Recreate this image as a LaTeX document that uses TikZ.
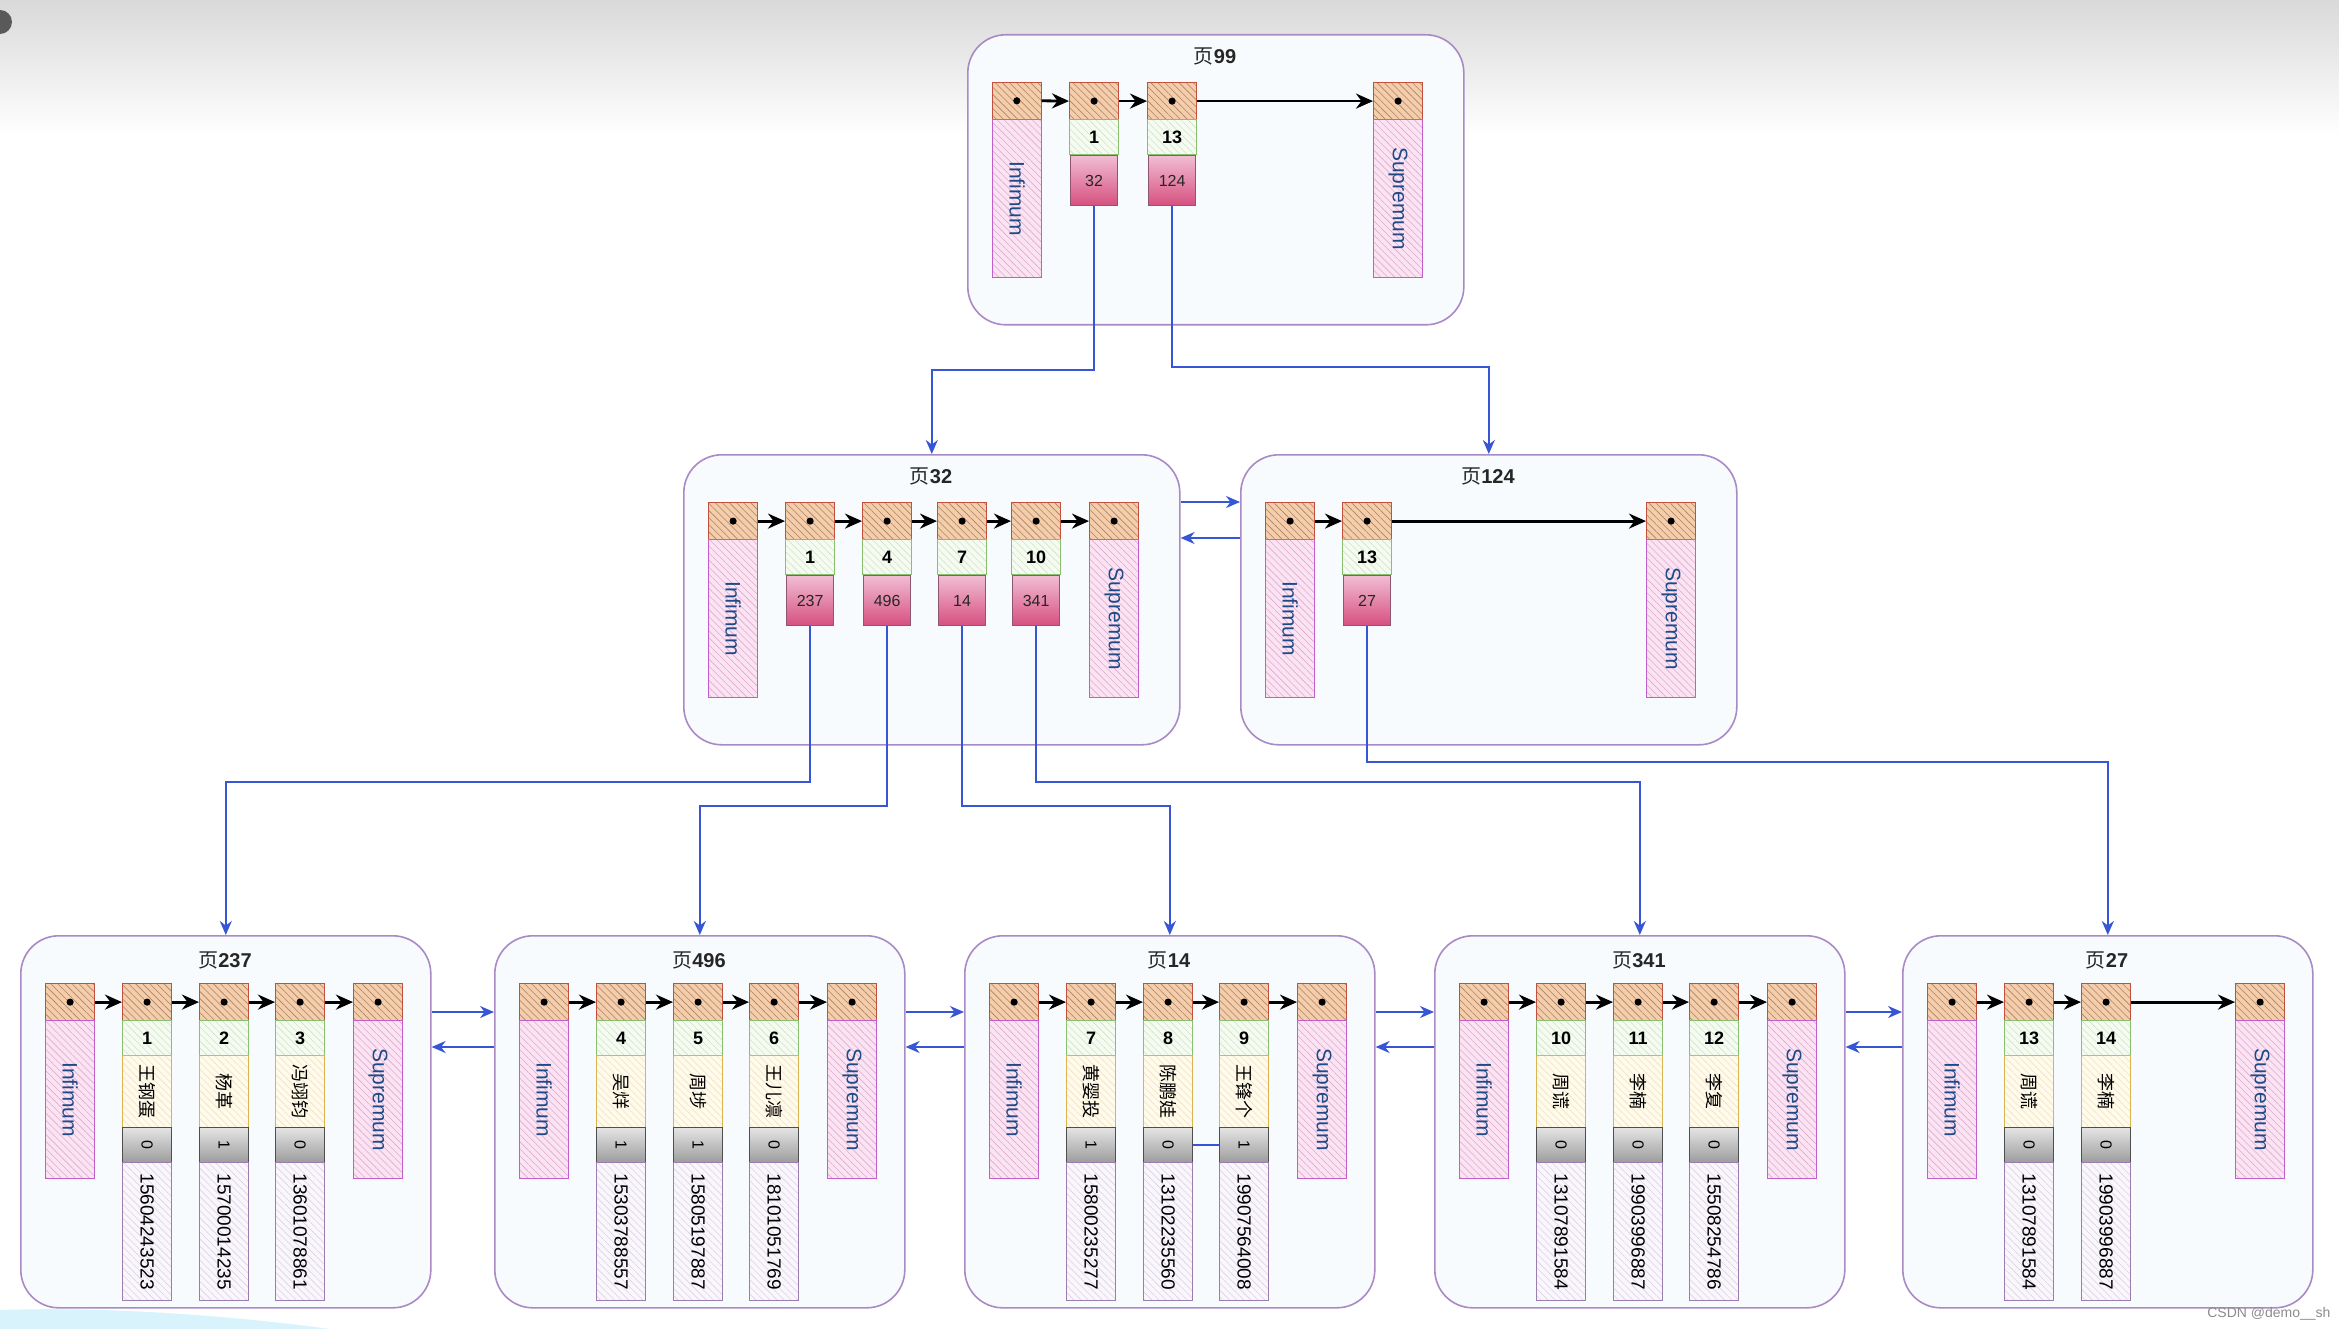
\documentclass[tikz,border=0pt]{standalone}
\usepackage{fontspec}
\setmainfont{Liberation Sans}
\newfontfamily\cjk{Noto Sans CJK SC}
\usepackage{graphicx}
\usetikzlibrary{patterns.meta,arrows.meta}

\definecolor{pageedge}{HTML}{A98AC4}
\definecolor{pagefill}{HTML}{F8FBFD}
\definecolor{headfill}{HTML}{F4CDAA}
\definecolor{headedge}{HTML}{C2503F}
\definecolor{headhatch}{HTML}{AD8268}
\definecolor{inffill}{HTML}{FAE3F3}
\definecolor{infedge}{HTML}{C05FCB}
\definecolor{infhatch}{HTML}{E2A9CB}
\definecolor{inftext}{HTML}{1E4A86}
\definecolor{keyfill}{HTML}{F6FBF2}
\definecolor{keyedge}{HTML}{88C070}
\definecolor{keyhatch}{HTML}{CFE3C6}
\definecolor{ptrtop}{HTML}{F1BDD3}
\definecolor{ptrbot}{HTML}{D6507F}
\definecolor{ptredge}{HTML}{8E5670}
\definecolor{namefill}{HTML}{FFFAEA}
\definecolor{nameedge}{HTML}{D8B552}
\definecolor{namehatch}{HTML}{EEE2C6}
\definecolor{flagtop}{HTML}{E4E4E4}
\definecolor{flagbot}{HTML}{9C9C9C}
\definecolor{flagedge}{HTML}{4E4E4E}
\definecolor{phonefill}{HTML}{FAF7FC}
\definecolor{phoneedge}{HTML}{9C7DAF}
\definecolor{phonehatch}{HTML}{DDD2E5}
\definecolor{conn}{HTML}{3656D6}

\tikzset{
  hatch/.style={pattern={Lines[angle=-45,distance=5pt,line width=0.6pt]}, pattern color=#1},
  cell/.style={rectangle, anchor=north west, inner sep=0pt, line width=1.2pt, minimum width=49pt},
  headc/.style={cell, minimum height=37pt, draw=headedge, preaction={fill=headfill}, hatch=headhatch},
  infc/.style={cell, minimum height=158pt, draw=infedge, preaction={fill=inffill}, hatch=infhatch,
    text=inftext, font=\fontsize{21}{24}\selectfont},
  keyc/.style={cell, minimum height=35pt, draw=keyedge, preaction={fill=keyfill}, hatch=keyhatch,
    font=\fontsize{18}{20}\selectfont\bfseries},
  ptrc/.style={cell, minimum width=47pt, minimum height=50pt, draw=ptredge, top color=ptrtop, bottom color=ptrbot,
    text=black!85, font=\fontsize{16}{18}\selectfont},
  namec/.style={cell, minimum height=72pt, draw=nameedge, preaction={fill=namefill}, hatch=namehatch,
    font=\fontsize{18}{20}\selectfont},
  flagc/.style={cell, minimum height=35pt, draw=flagedge, top color=flagtop, bottom color=flagbot,
    font=\fontsize{16}{18}\selectfont},
  phonec/.style={cell, minimum height=138pt, draw=phoneedge, preaction={fill=phonefill}, hatch=phonehatch,
    font=\fontsize{19}{22}\selectfont},
  pagebox/.style={rectangle, anchor=north west, inner sep=0pt, draw=pageedge, fill=pagefill,
    line width=1.6pt, rounded corners=38pt},
  ttl/.style={inner sep=0pt, text=black!85, font=\fontsize{20}{24}\selectfont},
  harrow/.style={line width=2.8pt, -{Stealth[length=17pt,width=15pt]}},
  bconn/.style={line width=2pt, draw=conn, -{Stealth[length=14pt,width=12pt]}},
}

\newcommand\hdot[1]{\fill (#1.center) circle (3.6pt);}

% internal page: #1 prefix, #2 left, #3 top, #4 title, #5 list key/ptr/x, #6 count
\newcommand\ipage[6]{%
\begin{scope}[shift={(#2,#3)}]
  \node[pagebox, minimum width=496pt, minimum height=290pt] (#1) at (0,0) {};
  \node[ttl] (#1-t) at (248,22) {{\cjk 页}\textbf{#4}};
  \node[headc] (#1-h0) at (25,48) {}; \hdot{#1-h0}
  \node[infc] (#1-inf) at (25,85) {\rotatebox{-90}{Infimum}};
  \node[headc] (#1-hs) at (406,48) {}; \hdot{#1-hs}
  \node[infc] (#1-sup) at (406,85) {\rotatebox{-90}{Supremum}};
  \foreach \kk/\pp/\xx [count=\i] in {#5} {
    \node[headc] (#1-h\i) at (\xx,48) {}; \hdot{#1-h\i}
    \node[keyc] (#1-k\i) at (\xx,85) {\kk};
    \node[ptrc] (#1-p\i) at (\xx+1,121) {\pp};
    \pgfmathtruncatemacro\j{\i-1}
    \draw[harrow] (#1-h\j.east) -- (#1-h\i.west);
  }
  \draw[harrow] (#1-h#6.east) -- (#1-hs.west);
\end{scope}}

% leaf page: #1 prefix, #2 left, #3 top, #4 title, #5 list key/name/flag/phone/x, #6 count
\newcommand\lpage[6]{%
\begin{scope}[shift={(#2,#3)}]
  \node[pagebox, minimum width=410pt, minimum height=372pt] (#1) at (0,0) {};
  \node[ttl] (#1-t) at (205,25) {{\cjk 页}\textbf{#4}};
  \node[headc] (#1-h0) at (25,48) {}; \hdot{#1-h0}
  \node[infc] (#1-inf) at (25,85) {\rotatebox{-90}{Infimum}};
  \node[headc] (#1-hs) at (333,48) {}; \hdot{#1-hs}
  \node[infc] (#1-sup) at (333,85) {\rotatebox{-90}{Supremum}};
  \foreach \kk/\nn/\ff/\ph/\xx [count=\i] in {#5} {
    \node[headc] (#1-h\i) at (\xx,48) {}; \hdot{#1-h\i}
    \node[keyc] (#1-k\i) at (\xx,85) {\kk};
    \node[namec] (#1-n\i) at (\xx,120) {\rotatebox{-90}{\cjk \nn}};
    \node[flagc] (#1-f\i) at (\xx,192) {\rotatebox{-90}{\ff}};
    \node[phonec] (#1-ph\i) at (\xx,227) {\rotatebox{-90}{\ph}};
    \pgfmathtruncatemacro\j{\i-1}
    \draw[harrow] (#1-h\j.east) -- (#1-h\i.west);
  }
  \draw[harrow] (#1-h#6.east) -- (#1-hs.west);
\end{scope}}

\begin{document}
\begin{tikzpicture}[x=1pt, y=-1pt]
\useasboundingbox (0,0) rectangle (2339,1329);
\fill[white] (0,0) rectangle (2339,1329);
\shade[top color=black!15, bottom color=white] (0,0) rectangle (2339,135);
\fill[black!65] (0,22) circle (12pt);
\fill[cyan!15] (0,1329) -- (0,1310) .. controls (120,1306) and (250,1318) .. (330,1329) -- cycle;

% upper levels
\ipage{p99}{967}{34}{99}{1/32/102, 13/124/180}{2}
\ipage{p32}{683}{454}{32}{1/237/102, 4/496/179, 7/14/254, 10/341/328}{4}
\ipage{p124}{1240}{454}{124}{13/27/102}{1}

% leaves
\lpage{p237}{20}{935}{237}{1/王钢蛋/0/15604243523/102, 2/杨革/1/15700014235/179, 3/冯翊钧/0/13601078861/255}{3}
\lpage{p496}{494}{935}{496}{4/吴烊/1/15303788557/102, 5/周埗/1/15805197887/179, 6/王儿凛/0/18101051769/255}{3}
\lpage{p14}{964}{935}{14}{7/黄婴投/1/15800235277/102, 8/陈鹏娃/0/13102235560/179, 9/王锋个/1/19907564008/255}{3}
\lpage{p341}{1434}{935}{341}{10/周谎/0/13107891584/102, 11/李楠/0/19903996887/179, 12/李复/0/15508254786/255}{3}
\lpage{p27}{1902}{935}{27}{13/周谎/0/13107891584/102, 14/李楠/0/19903996887/179}{2}

% turning levels
\coordinate (ya) at (0,370);
\coordinate (yb) at (0,367);
\coordinate (yc) at (0,782);
\coordinate (yd) at (0,806);
\coordinate (ye) at (0,762);

\draw[bconn] (p99-p1.south) -- (p99-p1.south |- ya) -| (p32.north);
\draw[bconn] (p99-p2.south) -- (p99-p2.south |- yb) -| (p124.north);
\draw[bconn] (p32-p1.south) -- (p32-p1.south |- yc) -| (p237.north);
\draw[bconn] (p32-p2.south) -- (p32-p2.south |- yd) -| (p496.north);
\draw[bconn] (p32-p3.south) -- (p32-p3.south |- yd) -| (p14.north);
\draw[bconn] (p32-p4.south) -- (p32-p4.south |- yc) -| (p341.north);
\draw[bconn] (p124-p1.south) -- (p124-p1.south |- ye) -| (p27.north);

% sibling links
\coordinate (ia) at (0,502);
\coordinate (ib) at (0,538);
\draw[bconn] (p32.east |- ia) -- (p124.west |- ia);
\draw[bconn] (p124.west |- ib) -- (p32.east |- ib);

\coordinate (la) at (0,1012);
\coordinate (lb) at (0,1047);
\foreach \a/\b in {p237/p496, p496/p14, p14/p341, p341/p27} {
  \draw[bconn] (\a.east |- la) -- (\b.west |- la);
  \draw[bconn] (\b.west |- lb) -- (\a.east |- lb);
}
\draw[line width=2pt, draw=conn] (p14-f2.east) -- (p14-f3.west);

\node[text=black!45, font=\fontsize{14}{16}\selectfont, anchor=east] (csdn) at (2334,1314) {CSDN @demo\_\_sh};
\end{tikzpicture}
\end{document}
